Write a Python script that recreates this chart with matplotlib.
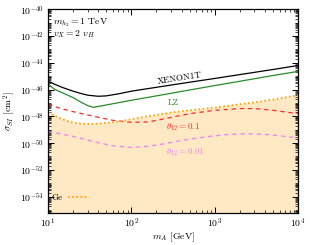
import numpy as np
import matplotlib
matplotlib.use("Agg")
import matplotlib.pyplot as plt
from matplotlib.ticker import FixedLocator, LogLocator, NullFormatter, LogFormatterSciNotation

plt.rcParams['mathtext.fontset'] = 'cm'
plt.rcParams['font.family'] = 'serif'
plt.rcParams['font.serif'] = ['cmr10', 'DejaVu Serif']
plt.rcParams['axes.formatter.use_mathtext'] = True

# dark matter mass [GeV]
m_xenon = [10, 12, 15, 20, 25, 30, 40, 50, 70, 100, 200, 500, 1000, 2000, 5000, 10000]
# log10 of sigma_SI [cm^2]
s_xenon = [-45.36, -45.6, -45.85, -46.12, -46.3, -46.42, -46.5, -46.47, -46.32, -46.12,
           -45.83, -45.45, -45.17, -44.88, -44.5, -44.2]

m_lz = [10, 11, 12, 15, 20, 25, 30, 35, 50, 100, 200, 500, 1000, 2000, 5000, 10000]
s_lz = [-45.56, -45.8, -45.98, -46.25, -46.6, -46.95, -47.2, -47.33, -47.15, -46.8,
        -46.47, -46.03, -45.7, -45.38, -44.95, -44.64]

m_t01 = [10, 14, 20, 30, 42, 60, 100, 160, 300, 500, 1000, 2000, 3000, 5000, 10000]
s_t01 = [-47.1, -47.4, -47.65, -47.9, -48.1, -48.3, -48.45, -48.42, -48.08, -47.8,
         -47.55, -47.42, -47.42, -47.55, -47.8]

m_t001 = [10, 14, 20, 30, 42, 60, 100, 150, 250, 400, 800, 1500, 2500, 4000, 6000, 10000]
s_t001 = [-49.14, -49.3, -49.5, -49.78, -50.0, -50.2, -50.33, -50.25, -50.05, -49.8,
          -49.52, -49.35, -49.3, -49.35, -49.45, -49.62]

m_ge = [10, 12, 14, 17, 20, 25, 30, 40, 60, 80, 100, 130, 200, 316, 500, 1000, 2000, 3500, 5000, 10000]
s_ge = [-47.7, -47.95, -48.15, -48.35, -48.47, -48.55, -48.57, -48.55, -48.45, -48.33,
        -48.22, -48.08, -47.9, -47.7, -47.55, -47.35, -47.1, -46.9, -46.75, -46.42]

fig = plt.figure(figsize=(3.16, 2.45), dpi=100)
ax = fig.add_axes([0.152, 0.132, 0.791, 0.830])

ax.fill_between(m_ge, 10.0 ** np.array(s_ge), 1e-56, color='#ffe9c4', lw=0)
ax.plot(m_xenon, 10.0 ** np.array(s_xenon), color='black', lw=0.9)
ax.plot(m_lz, 10.0 ** np.array(s_lz), color='#2a8a2a', lw=0.9)
ax.plot(m_t01, 10.0 ** np.array(s_t01), color='#ff2a2a', lw=0.9, ls=(0, (3.5, 3)))
ax.plot(m_t001, 10.0 ** np.array(s_t001), color='#ee82ee', lw=0.9, ls=(0, (3.5, 3)))
ax.plot(m_ge, 10.0 ** np.array(s_ge), color='#ffa500', lw=1.3, ls=(0, (1, 1.3)), label='Ge')

ax.set_xscale('log')
ax.set_yscale('log')
ax.set_xlim(10, 1e4)
ax.set_ylim(10 ** -55.2, 1e-40)

ax.yaxis.set_major_locator(FixedLocator([10.0 ** e for e in range(-54, -39, 2)]))
ax.yaxis.set_major_formatter(LogFormatterSciNotation())
ax.yaxis.set_minor_locator(LogLocator(base=10, subs=np.arange(1, 10), numticks=40))
ax.yaxis.set_minor_formatter(NullFormatter())
ax.xaxis.set_minor_locator(LogLocator(base=10, subs=np.arange(2, 10), numticks=20))
ax.xaxis.set_minor_formatter(NullFormatter())

ax.tick_params(which='both', direction='in', top=True, right=True, labelsize=7)
ax.tick_params(which='major', length=4, width=0.7, pad=3)
ax.tick_params(which='minor', length=2, width=0.5)
ax.tick_params(axis='x', which='major', pad=2.5)
for sp in ax.spines.values():
    sp.set_linewidth(0.9)

ax.set_xlabel(r'$m_A$ [GeV]', fontsize=7, labelpad=0.5)
ax.set_ylabel(r'$\sigma_{SI}$ [cm$^2$]', fontsize=7, labelpad=2)

ax.text(0.02, 0.933, r'$m_{h_2} = 1$ TeV', transform=ax.transAxes, fontsize=7, va='center')
ax.text(0.02, 0.878, r'$v_X = 2\ v_H$', transform=ax.transAxes, fontsize=7, va='center')

ax.text(385, 10 ** -45.15, 'XENON1T', fontsize=6.5, rotation=8.8, ha='center', va='center')
ax.text(316, 10 ** -47.0, 'LZ', fontsize=6.5, color='#2a8a2a', ha='center', va='center')
ax.text(415, 10 ** -48.8, r'$\theta_{12} = 0.1$', fontsize=6.5, color='#ff2a2a', ha='center', va='center')
ax.text(440, 10 ** -50.67, r'$\theta_{12} = 0.01$', fontsize=6.5, color='#ee82ee', ha='center', va='center')

ax.legend(loc='lower left', frameon=False, markerfirst=False, fontsize=6.5,
          handlelength=2.3, handletextpad=0.6, borderaxespad=0.3, bbox_to_anchor=(-0.01, 0.02))

fig.savefig('out.png', dpi=100)
